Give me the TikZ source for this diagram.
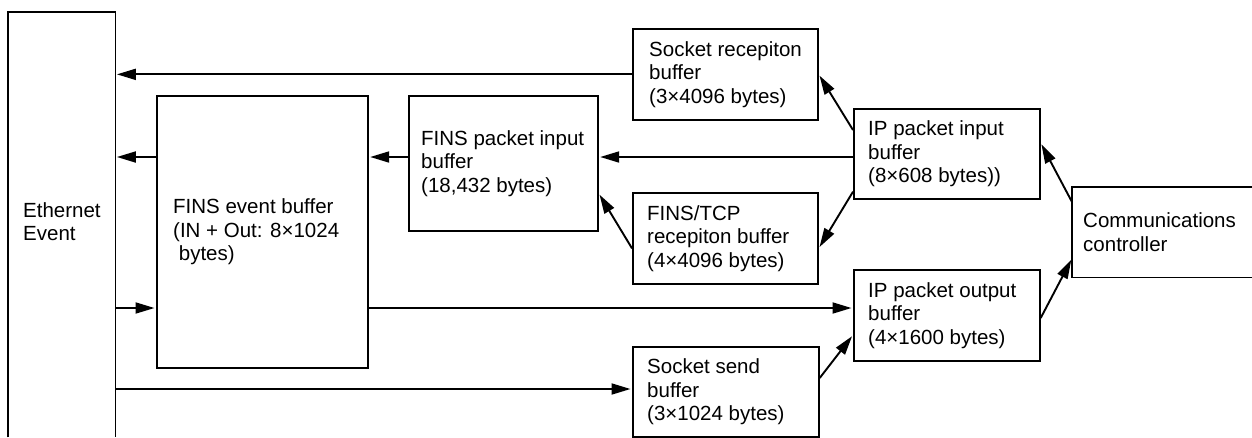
\documentclass[tikz,border=0pt]{standalone}
\usepackage{fontspec}
\setmainfont{Liberation Sans}
\usetikzlibrary{arrows.meta}
\begin{document}
\begin{tikzpicture}[x=1pt,y=-1pt,
  box/.style={draw, line width=1.7pt, inner sep=0pt, anchor=north west},
  open/.style={inner sep=0pt, anchor=north west},
  frame/.style={line width=1.7pt},
  txt/.style={anchor=west, align=left, inner sep=0pt, font=\fontsize{20.5}{23.5}\selectfont},
  arr/.style={line width=1.9pt, shorten >=1.5pt, -{Triangle[length=19pt,width=11pt]}}]
\useasboundingbox (0,0) rectangle (1252,437);
% boxes
\node[open, minimum width=107pt, minimum height=425pt] (eth) at (8,12) {};
\draw[frame] (eth.south west) -- (eth.north west) -- (eth.north east) -- (eth.south east);
\node[box, minimum width=211pt, minimum height=272pt] (finsev) at (156,95) {};
\node[box, minimum width=189pt, minimum height=135pt] (finsin) at (408,95) {};
\node[box, minimum width=185pt, minimum height=91pt] (sockrecv) at (632,28) {};
\node[box, minimum width=185pt, minimum height=91pt] (finstcp) at (632,192) {};
\node[box, minimum width=186pt, minimum height=90pt] (ipin) at (853,108) {};
\node[box, minimum width=186pt, minimum height=91pt] (ipout) at (853,269) {};
\node[box, minimum width=186pt, minimum height=90pt] (socksend) at (632,346) {};
\node[open, minimum width=200pt, minimum height=90pt] (comm) at (1072,187) {};
\draw[frame] (comm.north east) -- (comm.north west) -- (comm.south west) -- (comm.south east);
% texts
\node[txt] (ethT) at ([xshift=15pt,yshift=3pt]eth.west) {Ethernet\\Event};
\node[txt] (finsevT) at ([xshift=17pt]finsev.west) {FINS event buffer\\(IN + Out: 8×1024\\~bytes)};
\node[txt] (finsinT) at ([xshift=13pt]finsin.west) {FINS packet input\\buffer\\(18,432 bytes)};
\node[txt] (sockrecvT) at ([xshift=17pt]sockrecv.west) {Socket recepiton\\buffer\\(3×4096 bytes)};
\node[txt] (finstcpT) at ([xshift=15pt]finstcp.west) {FINS/TCP\\recepiton buffer\\(4×4096 bytes)};
\node[txt] (ipinT) at ([xshift=15pt]ipin.west) {IP packet input\\buffer\\(8×608 bytes))};
\node[txt] (ipoutT) at ([xshift=15pt]ipout.west) {IP packet output\\buffer\\(4×1600 bytes)};
\node[txt] (socksendT) at ([xshift=15pt]socksend.west) {Socket send\\buffer\\(3×1024 bytes)};
\node[txt] (commT) at ([xshift=11pt]comm.west) {Communications\\controller};
% rows
\coordinate (rowB) at (0,157);
\coordinate (rowC) at (0,308);
\coordinate (rowD) at (0,389);
% connectors
\draw[arr] (sockrecv.west) -- (eth.east |- sockrecv.west);
\draw[arr] (finsev.west |- rowB) -- (eth.east |- rowB);
\draw[arr] (finsin.west |- rowB) -- (finsev.east |- rowB);
\draw[arr] (ipin.west |- rowB) -- (finsin.east |- rowB);
\draw[arr] (eth.east |- rowC) -- (finsev.west |- rowC);
\draw[arr] (finsev.east |- rowC) -- (ipout.west |- rowC);
\draw[arr] (eth.east |- rowD) -- (socksend.west |- rowD);
\draw[arr] ([yshift=-22pt]ipin.north west) -- (sockrecv.east);
\draw[arr] ([yshift=8pt]ipin.south west) -- ([yshift=-10pt]finstcp.east);
\draw[arr] ([yshift=-10pt]finstcp.west) -- ([yshift=-30pt]finsin.east);
\draw[arr] ([yshift=-32pt]socksend.north east) -- ([yshift=-66pt]ipout.north west);
\draw[arr] ([yshift=-49pt]ipout.north east) -- ([yshift=19pt]comm.south west);
\draw[arr] ([yshift=-15pt]comm.north west) -- ([yshift=-35pt]ipin.north east);
\end{tikzpicture}
\end{document}
